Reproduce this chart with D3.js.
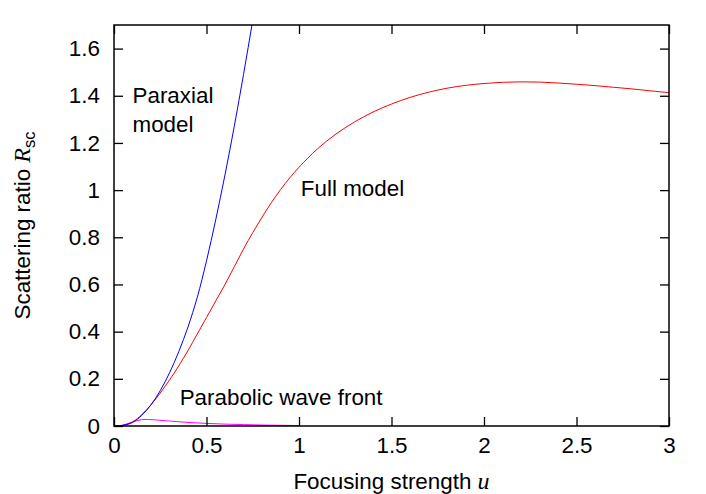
<!DOCTYPE html>
<html>
<head>
<meta charset="utf-8">
<script src="https://cdn.jsdelivr.net/npm/d3@7"></script>
<style>
  body { margin: 0; background: #fff; }
  svg { font-family: "Liberation Sans", Arial, sans-serif; }
</style>
</head>
<body>
<div id="chart"></div>
<script>
// data
const uParaxial = [0, 0.05, 0.1, 0.15, 0.2, 0.25, 0.3, 0.35, 0.4, 0.45, 0.5, 0.55, 0.6, 0.65, 0.7, 0.75, 0.8];
const rParaxial = [0, 0.003, 0.015, 0.045, 0.09, 0.15, 0.225, 0.315, 0.42, 0.545, 0.70, 0.875, 1.065, 1.27, 1.49, 1.72, 1.96];

const uFull = [0, 0.05, 0.1, 0.15, 0.2, 0.25, 0.3, 0.35, 0.4, 0.45, 0.5, 0.55, 0.6, 0.65, 0.7, 0.75, 0.8, 0.85, 0.9, 0.95, 1.0,
    1.1, 1.2, 1.3, 1.4, 1.5, 1.6, 1.7, 1.8, 1.9, 2.0, 2.1, 2.2, 2.3, 2.4, 2.5, 2.6, 2.7, 2.8, 2.9, 3.0];
const rFull = [0, 0.003, 0.017, 0.048, 0.09, 0.14, 0.195, 0.255, 0.32, 0.39, 0.46, 0.53, 0.60, 0.675, 0.75, 0.82, 0.885, 0.946, 1.002, 1.052, 1.097,
    1.175, 1.238, 1.289, 1.331, 1.365, 1.393, 1.415, 1.432, 1.444, 1.452, 1.457, 1.459, 1.458, 1.454, 1.449, 1.443, 1.436, 1.429, 1.421, 1.413];

const uParabolic = [0, 0.05, 0.1, 0.15, 0.2, 0.3, 0.4, 0.5, 0.6, 0.7, 0.8, 0.9, 1.0];
const rParabolic = [0, 0.004, 0.017, 0.027, 0.027, 0.021, 0.015, 0.011, 0.008, 0.006, 0.004, 0.003, 0.002];

const xTicks = [0, 0.5, 1, 1.5, 2, 2.5, 3];
const yTicks = [0, 0.2, 0.4, 0.6, 0.8, 1, 1.2, 1.4, 1.6];

const width = 706, height = 494;
const margin = { top: 25, right: 37, bottom: 68, left: 114 };
const innerW = width - margin.left - margin.right;
const innerH = height - margin.top - margin.bottom;
const fontSize = 22.4;

const svg = d3.select('#chart')
    .append('svg')
    .attr('width', width)
    .attr('height', height);

const g = svg.append('g')
    .attr('transform', `translate(${margin.left},${margin.top})`);

const x = d3.scaleLinear().domain([0, 3]).range([0, innerW]);
const y = d3.scaleLinear().domain([0, 1.7]).range([innerH, 0]);

const fmt = d => String(+d.toFixed(1));

// clip for curves
svg.append('defs').append('clipPath')
    .attr('id', 'plot-clip')
    .append('rect')
    .attr('width', innerW)
    .attr('height', innerH);

const line = d3.line()
    .x(d => x(d[0]))
    .y(d => y(d[1]))
    .curve(d3.curveCatmullRom.alpha(0.5));

const curves = g.append('g').attr('clip-path', 'url(#plot-clip)');

curves.append('path')
    .datum(d3.zip(uParabolic, rParabolic))
    .attr('d', line)
    .attr('fill', 'none')
    .attr('stroke', '#ff00ff')
    .attr('stroke-width', 1);

curves.append('path')
    .datum(d3.zip(uFull, rFull))
    .attr('d', line)
    .attr('fill', 'none')
    .attr('stroke', '#ff0000')
    .attr('stroke-width', 1);

curves.append('path')
    .datum(d3.zip(uParaxial, rParaxial))
    .attr('d', line)
    .attr('fill', 'none')
    .attr('stroke', '#0000ff')
    .attr('stroke-width', 1);

// axes, ticks point inward
const tickLen = 9;

g.append('g')
    .attr('class', 'axis')
    .attr('transform', `translate(0,${innerH})`)
    .call(d3.axisBottom(x).tickValues(xTicks).tickFormat(fmt).tickSize(-tickLen).tickPadding(11));

g.append('g')
    .attr('class', 'axis')
    .call(d3.axisTop(x).tickValues(xTicks).tickFormat('').tickSize(-tickLen));

g.append('g')
    .attr('class', 'axis')
    .call(d3.axisLeft(y).tickValues(yTicks).tickFormat(fmt).tickSize(-tickLen).tickPadding(14));

g.append('g')
    .attr('class', 'axis')
    .attr('transform', `translate(${innerW},0)`)
    .call(d3.axisRight(y).tickValues(yTicks).tickFormat('').tickSize(-tickLen));

g.selectAll('.axis .domain').remove();
g.selectAll('.axis line').attr('stroke', '#000').attr('stroke-width', 1.3);
g.selectAll('.axis text')
    .attr('font-family', '"Liberation Sans", Arial, sans-serif')
    .attr('font-size', fontSize)
    .attr('fill', '#000');

g.append('rect')
    .attr('width', innerW)
    .attr('height', innerH)
    .attr('fill', 'none')
    .attr('stroke', '#000')
    .attr('stroke-width', 1.5);

// axis titles
const xTitle = g.append('text')
    .attr('x', innerW / 2)
    .attr('y', innerH + 63)
    .attr('text-anchor', 'middle')
    .attr('font-size', fontSize);
xTitle.append('tspan').text('Focusing strength ');
xTitle.append('tspan')
    .attr('font-family', '"Liberation Serif", "Times New Roman", serif')
    .attr('font-style', 'italic')
    .attr('font-size', 24)
    .text('u');

const yTitle = svg.append('text')
    .attr('transform', `translate(30,${margin.top + innerH / 2}) rotate(-90)`)
    .attr('text-anchor', 'middle')
    .attr('font-size', fontSize);
yTitle.append('tspan').text('Scattering ratio ');
yTitle.append('tspan')
    .attr('font-family', '"Liberation Serif", "Times New Roman", serif')
    .attr('font-style', 'italic')
    .attr('font-size', 24)
    .text('R');
yTitle.append('tspan')
    .attr('font-size', 16.5)
    .attr('dy', 5)
    .text('sc');

// curve labels
const labels = [
    { text: 'Paraxial', u: 0.1, r: 1.37 },
    { text: 'model', u: 0.1, r: 1.245 },
    { text: 'Full model', u: 1.01, r: 0.975 },
    { text: 'Parabolic wave front', u: 0.355, r: 0.088 }
];

g.selectAll('.curve-label')
    .data(labels)
    .enter()
    .append('text')
    .attr('class', 'curve-label')
    .attr('x', d => x(d.u))
    .attr('y', d => y(d.r))
    .attr('font-size', fontSize)
    .attr('fill', '#000')
    .text(d => d.text);
</script>
</body>
</html>
